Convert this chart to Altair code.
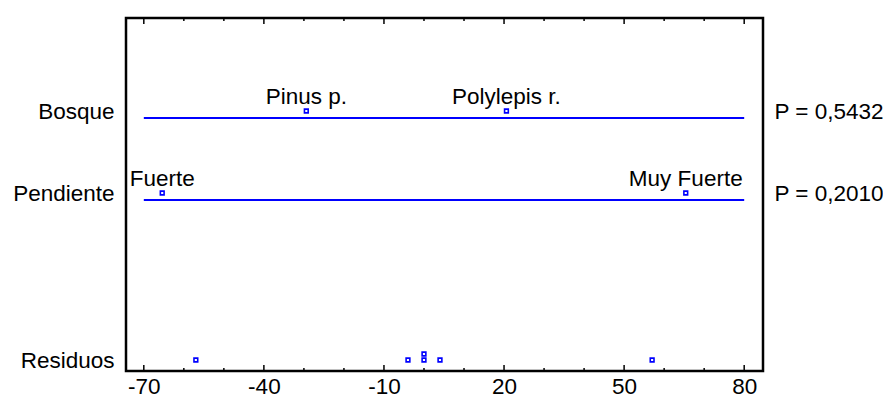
import altair as alt
import pandas as pd

# ---------------- data ----------------
row_names = ["Bosque", "Pendiente", "Residuos"]
p_values = ["P = 0,5432", "P = 0,2010"]
bosque_levels = ["Pinus p.", "Polylepis r."]
bosque_effects = [-29.4, 20.6]
pendiente_levels = ["Fuerte", "Muy Fuerte"]
pendiente_effects = [-65.4, 65.4]
residuals = [-57, -4, 0, 0, 4, 57]
x_major_ticks = [-70, -40, -10, 20, 50, 80]
x_minor_ticks = [-60, -50, -30, -20, 0, 10, 30, 40, 60, 70]
line_start, line_end = -70, 80

# ---------------- layout / style ----------------
W, H = 637, 353
ROW_Y = [100, 182, 349]          # vertical position of each row (px from top of plot)
X_DOMAIN = [-74.45, 84.7]
FONT = "Liberation Sans"
FS = 22.5
BLUE = "#0000ff"

xscale = alt.Scale(domain=X_DOMAIN, nice=False, zero=False)
yscale = alt.Scale(domain=[0, H], reverse=True, nice=False, zero=False)

x_axis = alt.Axis(values=x_major_ticks, title=None, grid=False, domain=False,
                  ticks=False, tickSize=0, labelPadding=4, labelFontSize=FS,
                  labelFont=FONT, labelColor="black", labelBaseline="top",
                  labelExpr="'' + datum.value")


def ternary(values, labels):
    expr = "''"
    for v, lab in reversed(list(zip(values, labels))):
        expr = f"datum.value == {v} ? '{lab}' : ({expr})"
    return expr


left_axis = alt.Axis(values=ROW_Y, labelExpr=ternary(ROW_Y, row_names), title=None,
                     grid=False, domain=False, ticks=False, tickSize=0,
                     labelPadding=12, labelFontSize=FS, labelFont=FONT,
                     labelColor="black", labelBaseline="alphabetic", orient="left")
right_axis = alt.Axis(values=ROW_Y[:2], labelExpr=ternary(ROW_Y[:2], p_values), title=None,
                      grid=False, domain=False, ticks=False, tickSize=0,
                      labelPadding=11, labelFontSize=FS, labelFont=FONT,
                      labelColor="black", labelBaseline="alphabetic", orient="right",
                      labelAlign="left")

# factor lines
rows_df = pd.DataFrame({
    "row": row_names[:2],
    "y": ROW_Y[:2],
    "x1": [line_start] * 2,
    "x2": [line_end] * 2,
})
lines = alt.Chart(rows_df).mark_rule(color=BLUE, strokeWidth=2).encode(
    x=alt.X("x1:Q", scale=xscale, axis=x_axis),
    x2="x2:Q",
    y=alt.Y("y:Q", scale=yscale, axis=left_axis),
)

# level effects
eff_df = pd.DataFrame({
    "level": bosque_levels + pendiente_levels,
    "effect": bosque_effects + pendiente_effects,
    "y": [ROW_Y[0]] * len(bosque_levels) + [ROW_Y[1]] * len(pendiente_levels),
})
points = alt.Chart(eff_df).mark_point(
    shape="square", filled=False, size=14, strokeWidth=1.6, color=BLUE,
    fill="white", fillOpacity=1, yOffset=-7, opacity=1
).encode(
    x=alt.X("effect:Q", scale=xscale, axis=x_axis),
    y=alt.Y("y:Q", scale=yscale, axis=right_axis),
)
labels = alt.Chart(eff_df).mark_text(
    font=FONT, fontSize=FS, color="black", baseline="alphabetic", align="center", dy=-14
).encode(
    x=alt.X("effect:Q", scale=xscale, axis=x_axis),
    y=alt.Y("y:Q", scale=yscale, axis=None),
    text="level:N",
)

# residuals (dot plot, repeated values stacked)
res_df = pd.DataFrame({"resid": residuals})
resid = alt.Chart(res_df).transform_window(
    k="row_number()", groupby=["resid"]
).transform_calculate(
    y=f"{ROW_Y[2]} - 6 * (datum.k - 1)"
).mark_point(
    shape="square", filled=False, size=14, strokeWidth=1.6, color=BLUE,
    fill="white", fillOpacity=1, yOffset=-7, opacity=1
).encode(
    x=alt.X("resid:Q", scale=xscale, axis=x_axis),
    y=alt.Y("y:Q", scale=yscale, axis=None),
)

# inner ticks on the frame
tick_df = pd.DataFrame({
    "v": x_major_ticks + x_minor_ticks,
    "major": [True] * len(x_major_ticks) + [False] * len(x_minor_ticks),
})


def tick_layer(major, y0, y1):
    return alt.Chart(tick_df).transform_filter(
        f"datum.major == {'true' if major else 'false'}"
    ).mark_rule(color="black", strokeWidth=1.5).encode(
        x=alt.X("v:Q", scale=xscale, axis=x_axis),
        y=alt.value(y0), y2=alt.value(y1),
    )


ticks = [
    tick_layer(True, H, H - 6), tick_layer(False, H, H - 3),
    tick_layer(True, 0, 6), tick_layer(False, 0, 3),
]

chart = alt.layer(lines, points, labels, resid, *ticks).resolve_axis(
    y="independent"
).properties(
    width=W, height=H,
    autosize=alt.AutoSizeParams(type="none"),
    padding={"left": 118, "top": 10, "right": 120, "bottom": 29},
    background="white",
).configure_view(
    stroke="black", strokeWidth=2.5
)

chart.save("out.html", embed_options={"renderer": "svg", "actions": False})
